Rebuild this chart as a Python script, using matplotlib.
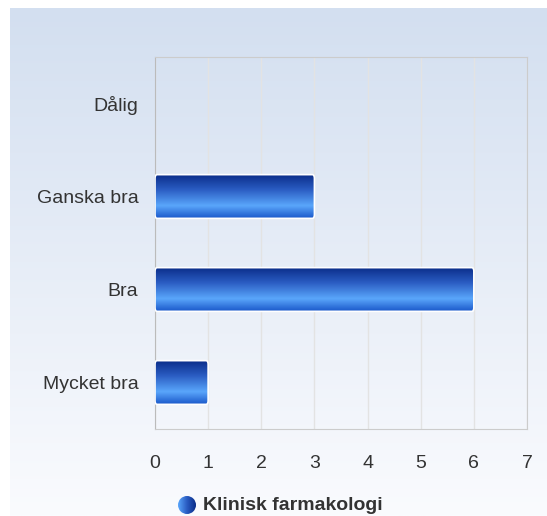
import numpy as np
import matplotlib
matplotlib.use("Agg")
import matplotlib.pyplot as plt
from matplotlib.colors import LinearSegmentedColormap, to_rgb
from matplotlib.patches import FancyBboxPatch, Circle

plt.rcParams["font.family"] = ["Liberation Sans", "DejaVu Sans"]

categories = ["Dålig", "Ganska bra", "Bra", "Mycket bra"]
values = [0, 3, 6, 1]
series_name = "Klinisk farmakologi"
xticks = [0, 1, 2, 3, 4, 5, 6, 7]

W, H = 547, 516
fig = plt.figure(figsize=(W / 100, H / 100), dpi=100)

# background panel gradient
bg = fig.add_axes([10 / W, 0, 1 - 10 / W, 1 - 8 / H])
bg.set_axis_off()
top = np.array(to_rgb("#d3dff0"))
bot = np.array(to_rgb("#fafbfe"))
t = np.linspace(0, 1, 256)[:, None]
grad = top * (1 - t) + bot * t
bg.imshow(grad[:, None, :].repeat(2, axis=1), aspect="auto", extent=[0, 1, 0, 1], origin="upper")
bg.set_xlim(0, 1); bg.set_ylim(0, 1)

x0, x1, y0, y1 = 155, 527, 57, 429
ax = fig.add_axes([x0 / W, 1 - y1 / H, (x1 - x0) / W, (y1 - y0) / H])
ax.patch.set_alpha(0)
n = len(categories)
ax.set_xlim(0, 7)
ax.set_ylim(n - 0.5, -0.5)
ax.set_xticks(xticks)
ax.set_xticklabels([str(v) for v in xticks])
ax.set_yticks(range(n))
ax.set_yticklabels(categories)
ax.tick_params(length=0, labelsize=14, colors="#333333")
ax.tick_params(axis="x", pad=19)
ax.tick_params(axis="y", pad=12)
ax.grid(axis="x", color="#e3e3e3", linewidth=1)
ax.set_axisbelow(True)
for s in ax.spines.values():
    s.set_color("#cccccc")
ax.spines["left"].set_color("#bbbbbb")

cmap = LinearSegmentedColormap.from_list("bar", [
    (0.0, "#0a2c88"), (0.35, "#2a5cc2"), (0.72, "#5aa6fb"), (1.0, "#1c5acb")])
grad_bar = np.linspace(0, 1, 200)[:, None]
bh = 0.47
for i, v in enumerate(values):
    if v <= 0:
        continue
    patch = FancyBboxPatch((0, i - bh / 2), v, bh,
                           boxstyle="round,pad=0,rounding_size=0.04",
                           mutation_aspect=1.0,
                           facecolor="none", edgecolor="white", linewidth=1.2, zorder=4)
    ax.add_patch(patch)
    im = ax.imshow(grad_bar, cmap=cmap, aspect="auto",
                   extent=[0, v, i + bh / 2, i - bh / 2], zorder=3, origin="upper")
    im.set_clip_path(patch)
ax.set_xlim(0, 7)
ax.set_ylim(n - 0.5, -0.5)

# legend
lax = fig.add_axes([0, 0, 1, 1])
lax.set_axis_off()
lax.set_xlim(0, W); lax.set_ylim(H, 0)
cx, cy, r = 187, 505, 9
circ = Circle((cx, cy), r, facecolor="none", edgecolor="none")
lax.add_patch(circ)
hgrad = np.linspace(0, 1, 100)[None, :]
lcmap = LinearSegmentedColormap.from_list("leg", ["#5aa6fb", "#2a5cc2", "#0a2c88"])
im2 = lax.imshow(hgrad, cmap=lcmap, aspect="auto", extent=[cx - r, cx + r, cy + r, cy - r])
im2.set_clip_path(circ)
lax.set_xlim(0, W); lax.set_ylim(H, 0)
lax.text(203, 506, series_name, fontsize=14, fontweight="bold", color="#333333",
         va="center", ha="left")

fig.savefig("out.png", dpi=100)
